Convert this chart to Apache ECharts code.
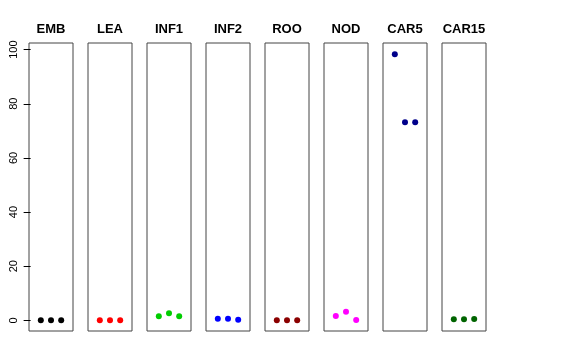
<!DOCTYPE html>
<html><head><meta charset="utf-8">
<script src="https://cdn.jsdelivr.net/npm/echarts@6/dist/echarts.min.js"></script>
<style>html,body{margin:0;padding:0;background:#fff}#c{width:576px;height:360px}</style>
</head><body><div id="c"></div>
<script>
const categories = ["EMB","LEA","INF1","INF2","ROO","NOD","CAR5","CAR15"];
const valEMB = [0, 0, 0];
const valLEA = [0, 0, 0];
const valINF1 = [1.5, 2.6, 1.5];
const valINF2 = [0.6, 0.6, 0.2];
const valROO = [0, 0, 0];
const valNOD = [1.6, 3.2, 0.1];
const valCAR5 = [98.3, 73.2, 73.2];
const valCAR15 = [0.4, 0.4, 0.45];
const seriesValues = [valEMB, valLEA, valINF1, valINF2, valROO, valNOD, valCAR5, valCAR15];
const colors = ["#000000","#FF0000","#00CD00","#0000FF","#8B0000","#FF00FF","#00008B","#006400"];
const yTicks = [0, 20, 40, 60, 80, 100];

const font = "Liberation Sans, Arial, sans-serif";
const L0 = 29, W = 44, STEP = 59, TOP = 43, H = 288;
const grids = [], xAxes = [], yAxes = [], series = [], titles = [];
categories.forEach((cat, i) => {
  const left = L0 + i * STEP;
  grids.push({left: left, top: TOP, width: W, height: H, show: true, borderColor: '#444', borderWidth: 1, backgroundColor: 'transparent'});
  xAxes.push({gridIndex: i, type: 'value', min: -0.16, max: 4.16, show: false});
  yAxes.push({gridIndex: i, type: 'value', min: -3.94, max: 102.44,
    axisLine: {show: false}, splitLine: {show: false},
    axisTick: {show: i === 0, length: 7, lineStyle: {color: '#000'}, customValues: yTicks},
    axisLabel: {show: i === 0, rotate: 90, margin: 10, fontSize: 11, color: '#000', fontFamily: font, customValues: yTicks}
  });
  series.push({type: 'scatter', xAxisIndex: i, yAxisIndex: i, symbol: 'circle', symbolSize: 6,
    itemStyle: {color: colors[i], opacity: 1}, silent: true,
    data: seriesValues[i].map((v, k) => [k + 1, v])});
  titles.push({text: cat, left: left + W / 2, top: 23, textAlign: 'center', padding: 0,
    textStyle: {fontSize: 13, fontWeight: 'bold', color: '#000', fontFamily: font}});
});
const chart = echarts.init(document.getElementById('c'), null, {renderer: 'canvas'});
chart.setOption({animation: false, title: titles, grid: grids, xAxis: xAxes, yAxis: yAxes, series: series});
</script></body></html>
